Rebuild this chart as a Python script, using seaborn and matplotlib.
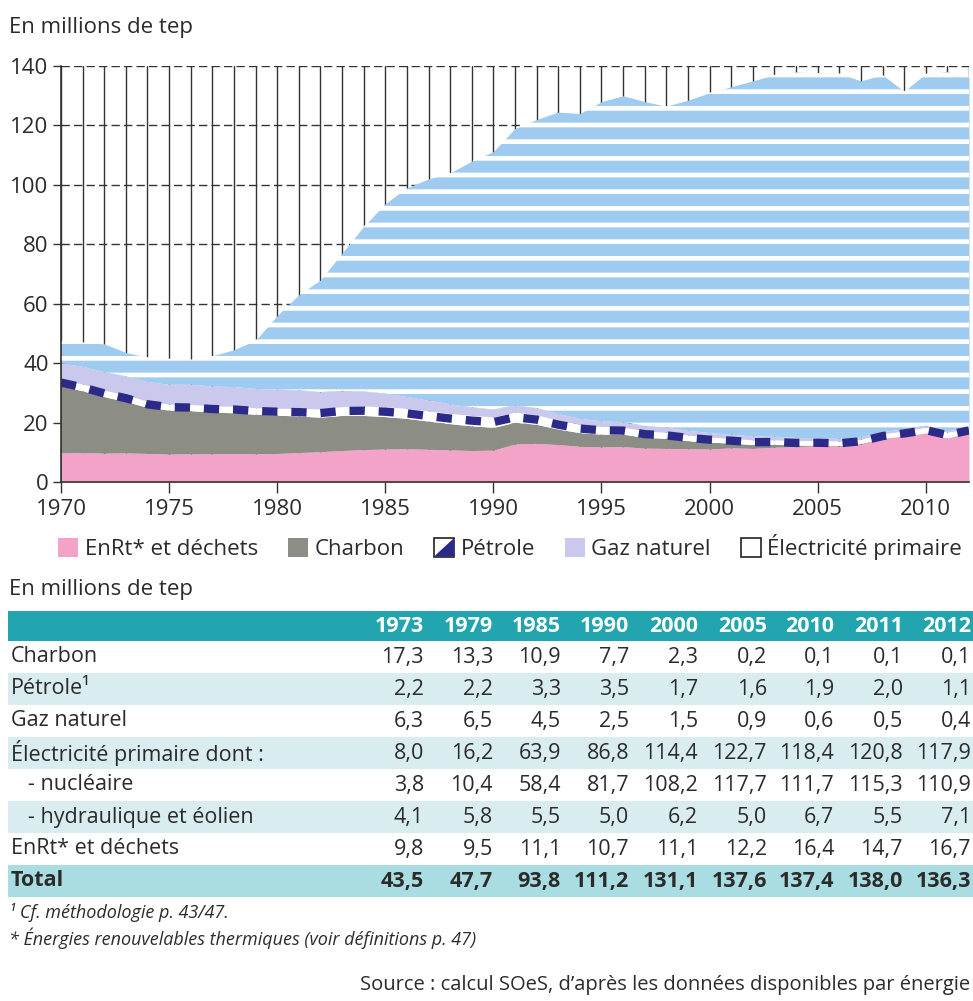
import matplotlib
matplotlib.use("Agg")
import matplotlib.pyplot as plt
import seaborn as sns
import pandas as pd
from matplotlib.patches import Rectangle, Patch, Polygon
from matplotlib.legend_handler import HandlerBase

# ---------------------------------------------------------------- data
years = list(range(1970, 2013))

enrt = [9.8, 9.9, 9.7, 9.8, 9.6, 9.4, 9.5, 9.5, 9.6, 9.5,
        9.6, 9.9, 10.2, 10.6, 10.9, 11.1, 11.2, 11.0, 10.8, 10.6,
        10.7, 12.8, 13.0, 12.6, 12.0, 11.8, 11.9, 11.4, 11.3, 11.2,
        11.1, 11.5, 11.3, 11.7, 11.9, 12.2, 12.1, 12.8, 14.6, 15.4,
        16.4, 14.7, 16.7]
charbon = [22.5, 20.8, 19.0, 17.3, 15.5, 14.8, 14.5, 14.0, 13.7, 13.3,
           12.9, 12.3, 11.6, 11.8, 11.5, 10.9, 10.2, 9.5, 8.8, 8.3,
           7.7, 7.3, 6.4, 5.2, 4.6, 4.3, 4.2, 3.6, 3.4, 2.7,
           2.3, 1.6, 1.3, 1.0, 0.5, 0.2, 0.2, 0.2, 0.1, 0.1,
           0.1, 0.1, 0.1]
petrole = [2.3, 2.3, 2.2, 2.2, 2.1, 2.0, 2.1, 2.1, 2.2, 2.2,
           2.3, 2.6, 2.8, 3.0, 3.2, 3.3, 3.4, 3.4, 3.5, 3.5,
           3.5, 3.4, 3.2, 3.0, 2.8, 2.6, 2.4, 2.2, 2.0, 1.9,
           1.7, 1.6, 1.6, 1.5, 1.5, 1.6, 1.5, 1.4, 1.5, 1.7,
           1.9, 2.0, 1.1]
gaz = [5.5, 5.9, 6.2, 6.3, 6.6, 6.7, 6.8, 6.7, 6.6, 6.5,
       6.4, 6.1, 5.7, 5.3, 4.9, 4.5, 4.0, 3.6, 3.2, 2.8,
       2.5, 2.4, 2.3, 2.2, 2.0, 1.9, 1.8, 1.7, 1.7, 1.6,
       1.5, 1.4, 1.3, 1.2, 1.1, 0.9, 0.9, 0.8, 0.8, 0.7,
       0.6, 0.5, 0.4]
electricite = [7.4, 8.1, 9.4, 8.0, 8.2, 8.6, 8.3, 10.2, 12.4, 16.2,
               24.8, 32.1, 37.7, 46.3, 55.5, 63.9, 70.2, 74.5, 77.7, 82.8,
               86.8, 93.1, 97.1, 101.5, 102.6, 107.4, 109.7, 109.1, 108.1, 111.1,
               114.4, 116.9, 119.5, 121.6, 123.0, 122.7, 122.8, 119.8, 120.0, 113.6,
               118.4, 120.8, 117.9]

series_names = ["EnRt* et déchets", "Charbon", "Pétrole", "Gaz naturel",
                "Électricité primaire"]

table_years = ["1973", "1979", "1985", "1990", "2000", "2005", "2010", "2011", "2012"]
row_labels = ["Charbon", "Pétrole¹", "Gaz naturel", "Électricité primaire dont :",
              "   - nucléaire", "   - hydraulique et éolien", "EnRt* et déchets", "Total"]
t_charbon = [17.3, 13.3, 10.9, 7.7, 2.3, 0.2, 0.1, 0.1, 0.1]
t_petrole = [2.2, 2.2, 3.3, 3.5, 1.7, 1.6, 1.9, 2.0, 1.1]
t_gaz = [6.3, 6.5, 4.5, 2.5, 1.5, 0.9, 0.6, 0.5, 0.4]
t_elec = [8.0, 16.2, 63.9, 86.8, 114.4, 122.7, 118.4, 120.8, 117.9]
t_nucleaire = [3.8, 10.4, 58.4, 81.7, 108.2, 117.7, 111.7, 115.3, 110.9]
t_hydro = [4.1, 5.8, 5.5, 5.0, 6.2, 5.0, 6.7, 5.5, 7.1]
t_enrt = [9.8, 9.5, 11.1, 10.7, 11.1, 12.2, 16.4, 14.7, 16.7]
t_total = [43.5, 47.7, 93.8, 111.2, 131.1, 137.6, 137.4, 138.0, 136.3]

# ---------------------------------------------------------------- style
sns.set_style("white")
FONT = ["Open Sans", "DejaVu Sans"]
plt.rcParams["font.family"] = FONT
plt.rcParams["lines.scale_dashes"] = False
TXT = "#2b2b2b"

PINK = "#f4a3c8"
GRAY = "#8c8e85"
NAVY = "#2b2a88"
LAVENDER = "#cac8ec"
BLUE = "#9ecbef"
TEAL = "#22a5ae"
ROW_SHADE = "#d9ecef"
TOTAL_SHADE = "#a9dde1"

FS_TICK = 16
FS_TEXT = 16
FS_TABLE = 15.5
FS_NOTE = 13

W, H = 973, 1001
fig = plt.figure(figsize=(W / 100, H / 100), dpi=100)


def fx(x):
    return x / W


def fy(y):
    return 1 - y / H


df = pd.DataFrame({"annee": years, "enrt": enrt, "charbon": charbon,
                   "petrole": petrole, "gaz": gaz, "elec": electricite})
df["b1"] = df["enrt"]
df["b2"] = df["b1"] + df["charbon"]
df["b3"] = df["b2"] + df["petrole"]
df["b4"] = df["b3"] + df["gaz"]
df["b5"] = df["b4"] + df["elec"]

# ---------------------------------------------------------------- chart
ax = fig.add_axes([fx(61), fy(482), fx(969) - fx(61), fy(66) - fy(482)])
ax.set_xlim(1970, 2012)
ax.set_ylim(0, 140)

# background grid: yearly verticals, dashed horizontals
for yr in years:
    ax.axvline(yr, color="#333333", lw=1.0, zorder=0)
for yv in range(20, 141, 20):
    ax.axhline(yv, color="#333333", lw=1.0, ls=(0, (6, 3)), zorder=0)

x = df["annee"]
ax.fill_between(x, 0, df["b1"], color=PINK, lw=0, zorder=2)
ax.fill_between(x, df["b1"], df["b2"], color=GRAY, lw=0, zorder=2)
ax.fill_between(x, df["b2"], df["b3"], color="white", lw=0, zorder=2)
ax.fill_between(x, df["b3"], df["b4"], color=LAVENDER, lw=0, zorder=2)
ax.fill_between(x, df["b4"], df["b5"], color=BLUE, lw=0, zorder=2)
with plt.rc_context({"hatch.linewidth": 3.4}):
    stripes = ax.fill_between(x, df["b4"], df["b5"], facecolor="none",
                              edgecolor="white", lw=0, hatch="-", zorder=3)
    if hasattr(stripes, "set_hatch_linewidth"):
        stripes.set_hatch_linewidth(3.4)
# petroleum band: navy dashes along its centre line
ax.plot(x, (df["b2"] + df["b3"]) / 2, color=NAVY, lw=6, solid_capstyle="butt",
        dash_capstyle="butt", ls=(0, (11, 10)), zorder=4)

ax.set_yticks(range(0, 141, 20))
ax.set_xticks(range(1970, 2011, 5))
ax.set_xticks(years, minor=True)
ax.tick_params(axis="both", which="major", labelsize=FS_TICK, colors="#333333",
               labelcolor=TXT, direction="out", width=1.0)
ax.tick_params(axis="x", which="major", length=8, pad=4)
ax.tick_params(axis="x", which="minor", length=4, width=1.0, color="#333333")
ax.tick_params(axis="y", which="major", length=6, pad=3)
ax.tick_params(left=True, bottom=True)
sns.despine(ax=ax, top=True, right=True)
for s in ("left", "bottom"):
    ax.spines[s].set_color("#333333")
    ax.spines[s].set_linewidth(1.2)
    ax.spines[s].set_zorder(5)

fig.text(fx(9), fy(28), "En millions de tep", fontsize=FS_TEXT, color=TXT,
         ha="left", va="center")


# ---------------------------------------------------------------- legend
class PetroleHandler(HandlerBase):
    def create_artists(self, legend, orig_handle, xdescent, ydescent,
                       width, height, fontsize, trans):
        x0, y0 = -xdescent, -ydescent
        box = Rectangle((x0, y0), width, height, facecolor="white",
                        edgecolor="#222222", lw=1.2, transform=trans)
        tri = Polygon([(x0 + width, y0), (x0 + width, y0 + height),
                       (x0, y0)], closed=True, facecolor=NAVY,
                      edgecolor="none", transform=trans)
        return [box, tri]


class PetroleKey:
    pass


handles = [
    Patch(facecolor=PINK, edgecolor="none"),
    Patch(facecolor=GRAY, edgecolor="none"),
    PetroleKey(),
    Patch(facecolor=LAVENDER, edgecolor="none"),
    Patch(facecolor="white", edgecolor="#222222", lw=1.2),
]
fig.legend(handles, series_names, loc="center left",
           bbox_to_anchor=(fx(47), fy(547)), ncol=5, frameon=False,
           fontsize=FS_TEXT, handlelength=0.9, handleheight=0.9,
           handletextpad=0.3, columnspacing=1.34, borderpad=0,
           labelcolor=TXT, handler_map={PetroleKey: PetroleHandler()})

fig.text(fx(9), fy(590), "En millions de tep", fontsize=FS_TEXT, color=TXT,
         ha="left", va="center")

# ---------------------------------------------------------------- table
left, right = 8, 973
header_top, header_bot = 611, 641
row_h = 32
col_right = [424, 493, 561, 629, 698, 767, 834, 903, 971]
values = [t_charbon, t_petrole, t_gaz, t_elec, t_nucleaire, t_hydro, t_enrt, t_total]
shaded = {1: ROW_SHADE, 3: ROW_SHADE, 5: ROW_SHADE, 7: TOTAL_SHADE}

fig.patches.append(Rectangle((fx(left), fy(header_bot)), fx(right) - fx(left),
                             fy(header_top) - fy(header_bot), transform=fig.transFigure,
                             facecolor=TEAL, edgecolor="none", zorder=0))
for xr, yr_lab in zip(col_right, table_years):
    fig.text(fx(xr), fy((header_top + header_bot) / 2), yr_lab, fontsize=FS_TABLE,
             fontweight="bold", color="white", ha="right", va="center")

for i, (lab, vals) in enumerate(zip(row_labels, values)):
    top = header_bot + i * row_h
    bot = top + row_h
    cy = (top + bot) / 2
    if i in shaded:
        fig.patches.append(Rectangle((fx(left), fy(bot)), fx(right) - fx(left),
                                     fy(top) - fy(bot), transform=fig.transFigure,
                                     facecolor=shaded[i], edgecolor="none", zorder=0))
    weight = "bold" if lab == "Total" else "normal"
    fig.text(fx(11), fy(cy), lab, fontsize=FS_TABLE, color=TXT, ha="left",
             va="center", fontweight=weight)
    for xr, v in zip(col_right, vals):
        fig.text(fx(xr), fy(cy), f"{v:.1f}".replace(".", ","), fontsize=FS_TABLE,
                 color=TXT, ha="right", va="center", fontweight=weight)

# ---------------------------------------------------------------- notes
fig.text(fx(9), fy(913), "¹ Cf. méthodologie p. 43/47.", fontsize=FS_NOTE,
         style="italic", color=TXT, ha="left", va="center")
fig.text(fx(9), fy(938), "* Énergies renouvelables thermiques (voir définitions p. 47)",
         fontsize=FS_NOTE, style="italic", color=TXT, ha="left", va="center")
fig.text(fx(970), fy(985), "Source : calcul SOeS, d’après les données disponibles par énergie",
         fontsize=14.5, color=TXT, ha="right", va="center")

fig.savefig("out.png", dpi=100)
